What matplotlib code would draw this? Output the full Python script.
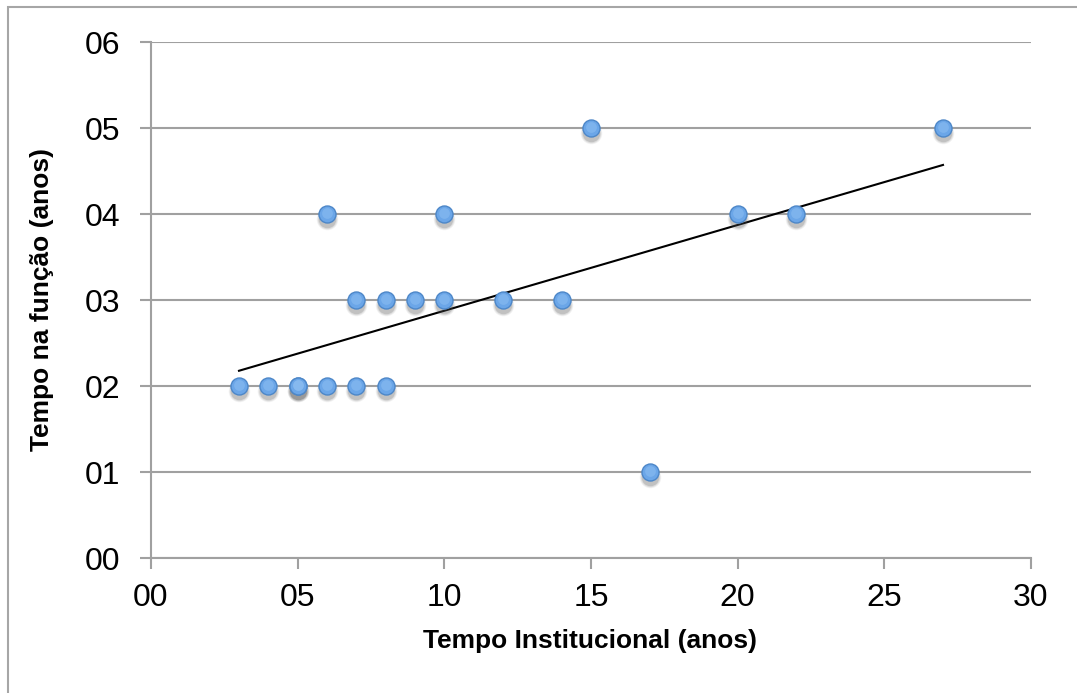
import matplotlib
matplotlib.use('agg')

import matplotlib.pyplot as plt
import numpy as np

# tempo institucional (anos) x tempo na funcao (anos)
tempo_inst = [3, 4, 5, 5, 6, 7, 8, 7, 8, 9, 10, 12, 14, 6, 10, 20, 22, 15, 27, 17]
tempo_func = [2, 2, 2, 2, 2, 2, 2, 3, 3, 3, 3, 3, 3, 4, 4, 4, 4, 5, 5, 1]

x_ticks = [0, 5, 10, 15, 20, 25, 30]
y_ticks = [0, 1, 2, 3, 4, 5, 6]

plt.rcParams['font.family'] = ['Liberation Sans', 'DejaVu Sans']

W, H = 1077, 693
fig = plt.figure(figsize=(W / 100, H / 100), dpi=100)
ax = fig.add_axes([151 / W, 1 - 558 / H, 880 / W, 516 / H])

# outer chart border (left/top only visible)
fig.patches.append(plt.Rectangle((8 / W, -0.1), 1.2, 1 - 7 / H + 0.1,
                                 transform=fig.transFigure, fill=False,
                                 edgecolor='#a6a6a6', linewidth=1.5))

x = np.array(tempo_inst, dtype=float)
y = np.array(tempo_func, dtype=float)

# linear trendline
m, b = np.polyfit(x, y, 1)
xl = np.array([x.min(), x.max()])
ax.plot(xl, m * xl + b, color='black', linewidth=1.5, zorder=3)

# soft shadow + markers
for s_, a_ in [(240, 0.07), (200, 0.12), (160, 0.2)]:
    ax.scatter(x, y - 0.06, s=s_, color='#505050', alpha=a_,
               linewidths=0, zorder=3)
ax.scatter(x, y, s=150, color='#6ba6e8', edgecolors='#4d87c8',
           linewidths=1.0, zorder=4)
# light highlight on top half of each marker
ax.scatter(x, y + 0.015, s=60, color='#8fc0f2', alpha=0.5,
           linewidths=0, zorder=5)

ax.set_xlim(0, 30)
ax.set_ylim(0, 6)
ax.set_xticks(x_ticks)
ax.set_yticks(y_ticks)
ax.set_xticklabels(['%02d' % v for v in x_ticks])
ax.set_yticklabels(['%02d' % v for v in y_ticks])

ax.yaxis.grid(True, color='#a0a0a0', linewidth=1.5)
ax.set_axisbelow(True)
for s in ['top', 'right']:
    ax.spines[s].set_visible(False)
for s in ['left', 'bottom']:
    ax.spines[s].set_color('#a0a0a0')
    ax.spines[s].set_linewidth(1.5)

ax.tick_params(axis='both', labelsize=23, color='#a0a0a0', width=1.5,
               length=8, direction='out')
ax.tick_params(axis='x', pad=10)
ax.tick_params(axis='y', pad=14)

fig.text(590 / W, 1 - 641 / H, 'Tempo Institucional (anos)', fontsize=19,
         fontweight='bold', ha='center', va='center')
fig.text(42 / W, 1 - 299 / H, 'Tempo na função (anos)', fontsize=19,
         fontweight='bold', ha='center', va='center', rotation=90)

fig.savefig('out.png', dpi=100)
